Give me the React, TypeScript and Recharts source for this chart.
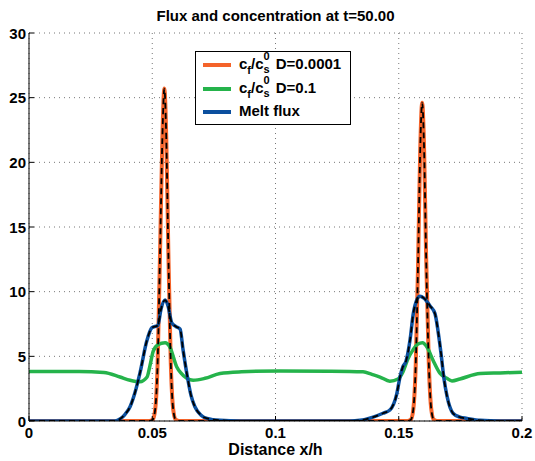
import React from 'react';
import { LineChart, Line, XAxis, YAxis, CartesianGrid } from 'recharts';

// D=0.0001 concentration (narrow peaks)
const lowDX = [0, 0.0488, 0.0502, 0.0512, 0.0522, 0.0532, 0.0541, 0.0549, 0.0557, 0.0565, 0.0575, 0.0585, 0.0595, 0.061,
  0.1535, 0.1549, 0.1559, 0.1569, 0.1579, 0.1587, 0.1595, 0.1603, 0.1611, 0.1622, 0.1632, 0.1642, 0.1656, 0.2];
const lowDY = [0, 0, 0.1, 0.9, 4.6, 13.4, 21.8, 25.7, 21.8, 13.4, 4.6, 0.9, 0.1, 0,
  0, 0.1, 0.9, 4.4, 12.8, 20.9, 24.6, 20.9, 12.8, 4.4, 0.9, 0.1, 0, 0];

// D=0.1 concentration
const highDX = [0, 0.0203, 0.0304, 0.0369, 0.041, 0.045, 0.0479, 0.0491, 0.0504, 0.0523, 0.0552, 0.0572, 0.0599, 0.0617,
  0.064, 0.0666, 0.0714, 0.0775, 0.0862, 0.1014, 0.1217, 0.1355, 0.1391, 0.1424, 0.1464, 0.1497, 0.1517, 0.1537, 0.1558,
  0.1578, 0.1596, 0.1615, 0.1639, 0.1667, 0.1695, 0.1716, 0.1748, 0.183, 0.1911, 0.2];
const highDY = [3.82, 3.82, 3.75, 3.4, 3.15, 3.03, 3.4, 4.3, 5.4, 5.9, 6.05, 5.7, 4.2, 3.7,
  3.3, 3.15, 3.3, 3.67, 3.8, 3.87, 3.85, 3.8, 3.6, 3.4, 3.08, 3.25, 3.8, 4.8, 5.5,
  5.95, 6.05, 5.7, 4.7, 3.7, 3.3, 3.1, 3.25, 3.67, 3.72, 3.77];

// melt flux
const fluxX = [0, 0.0349, 0.0369, 0.0389, 0.041, 0.043, 0.045, 0.0478, 0.0498, 0.0523, 0.0535, 0.0552, 0.0564, 0.0579,
  0.0596, 0.0613, 0.0625, 0.064, 0.0657, 0.0673, 0.0698, 0.0722, 0.0775, 0.0856, 0.1302, 0.1343, 0.1396, 0.1436,
  0.1464, 0.1492, 0.1505, 0.1517, 0.1529, 0.1546, 0.1559, 0.1574, 0.1586, 0.1602, 0.1627, 0.1647, 0.1659, 0.1671,
  0.1684, 0.1696, 0.172, 0.1748, 0.1777, 0.183, 0.1911, 0.2];
const fluxY = [0, 0, 0.15, 0.5, 1.1, 2.2, 3.7, 6.2, 7.2, 7.4, 8.6, 9.35, 8.9, 7.6,
  7.3, 7.1, 5.5, 3.7, 2.0, 1.1, 0.45, 0.2, 0.05, 0, 0, 0.05, 0.3, 0.6,
  0.85, 2.1, 3.4, 4.2, 4.6, 6.3, 8.3, 9.4, 9.65, 9.5, 8.9, 8.3, 7.0, 5.3,
  3.2, 1.9, 0.6, 0.3, 0.2, 0.05, 0, 0];

const xTicks = [0, 0.05, 0.1, 0.15, 0.2];
const yTicks = [0, 5, 10, 15, 20, 25, 30];

const ORANGE = '#f4632a';
const GREEN = '#25b34b';
const BLUE = '#0b4f9e';
const FONT = '"Liberation Sans", Arial, Helvetica, sans-serif';

const toPoints = (xs: number[], ys: number[]) => xs.map((x, i) => ({ x, y: ys[i] }));
const lowD = toPoints(lowDX, lowDY);
const highD = toPoints(highDX, highDY);
const flux = toPoints(fluxX, fluxY);

const BottomTick = (props: any) => {
  const { x, y, payload } = props;
  return (
    <g>
      <line x1={x} y1={y} x2={x} y2={y - 5} stroke="#000" />
      <text x={x} y={y + 17} textAnchor="middle" fontFamily={FONT} fontWeight="bold" fontSize={15} fill="#000">
        {payload.value}
      </text>
    </g>
  );
};
const TopTick = (props: any) => {
  const { x, y } = props;
  return <line x1={x} y1={y} x2={x} y2={y + 5} stroke="#000" />;
};
const LeftTick = (props: any) => {
  const { x, y, payload } = props;
  return (
    <g>
      <line x1={x} y1={y} x2={x + 5} y2={y} stroke="#000" />
      <text x={x - 3} y={y + 5.5} textAnchor="end" fontFamily={FONT} fontWeight="bold" fontSize={15} fill="#000">
        {payload.value}
      </text>
    </g>
  );
};
const RightTick = (props: any) => {
  const { x, y } = props;
  return <line x1={x} y1={y} x2={x - 5} y2={y} stroke="#000" />;
};

const small: React.CSSProperties = { fontSize: 11, lineHeight: '10px' };

const Conc = ({ d }: { d: string }) => (
  <span>
    c<span style={{ ...small, position: 'relative', top: 5 }}>f</span>/c
    <span style={{ position: 'relative', display: 'inline-block', width: 8, height: 16, verticalAlign: 'top' }}>
      <span style={{ ...small, position: 'absolute', left: 0, top: -5 }}>0</span>
      <span style={{ ...small, position: 'absolute', left: 0, top: 8 }}>s</span>
    </span>
    {' '}D={d}
  </span>
);

const legendItems = [
  { color: ORANGE, label: <Conc d="0.0001" />, top: 4 },
  { color: GREEN, label: <Conc d="0.1" />, top: 28 },
  { color: BLUE, label: <span>Melt flux</span>, top: 51 },
];

export default function App() {
  return (
    <div style={{ position: 'absolute', left: 0, top: 0, width: 535, height: 461, background: '#fff' }}>
      <div style={{ position: 'absolute', left: 29, top: 7, width: 493, textAlign: 'center', fontFamily: FONT, fontWeight: 'bold', fontSize: 15 }}>
        Flux and concentration at t=50.00
      </div>
      <LineChart width={535} height={461} margin={{ top: 33, right: 13, bottom: 0, left: 0 }}>
        <CartesianGrid strokeDasharray="1 4" stroke="#777" />
        <XAxis dataKey="x" type="number" domain={[0, 0.2]} ticks={xTicks} height={40} tickSize={0} tickMargin={0}
          tick={<BottomTick />} axisLine={{ stroke: '#000' }} allowDataOverflow />
        <XAxis xAxisId="t" orientation="top" dataKey="x" type="number" domain={[0, 0.2]} ticks={xTicks} height={0}
          tickSize={0} tickMargin={0} tick={<TopTick />} axisLine={{ stroke: '#000' }} />
        <YAxis type="number" domain={[0, 30]} ticks={yTicks} width={29} tickSize={0} tickMargin={0}
          tick={<LeftTick />} axisLine={{ stroke: '#000' }} allowDataOverflow />
        <YAxis yAxisId="r" orientation="right" type="number" domain={[0, 30]} ticks={yTicks} width={0} tickSize={0}
          tickMargin={0} tick={<RightTick />} axisLine={{ stroke: '#000' }} />
        <Line data={lowD} dataKey="y" type="monotone" stroke={ORANGE} strokeWidth={4} dot={false} isAnimationActive={false} />
        <Line data={highD} dataKey="y" type="monotone" stroke={GREEN} strokeWidth={3.5} dot={false} isAnimationActive={false} />
        <Line data={flux} dataKey="y" type="monotone" stroke={BLUE} strokeWidth={3.5} dot={false} isAnimationActive={false} />
        <Line data={lowD} dataKey="y" type="monotone" stroke="#000" strokeWidth={1.8} strokeDasharray="6 4" dot={false} isAnimationActive={false} />
        <Line data={flux} dataKey="y" type="monotone" stroke="#000" strokeWidth={1.8} strokeDasharray="6 4" dot={false} isAnimationActive={false} />
      </LineChart>
      <div style={{ position: 'absolute', left: 29, top: 442, width: 493, lineHeight: '16px', textAlign: 'center', fontFamily: FONT, fontWeight: 'bold', fontSize: 16 }}>
        Distance x/h
      </div>
      <div style={{ position: 'absolute', left: 195, top: 51, width: 156, height: 74, boxSizing: 'border-box', border: '1.5px solid #000', background: '#fff', fontFamily: FONT, fontWeight: 'bold', fontSize: 15 }}>
        {legendItems.map((it, i) => (
          <div key={i} style={{ position: 'absolute', left: 0, top: it.top, height: 16, lineHeight: '16px', whiteSpace: 'nowrap' }}>
            <span style={{ position: 'absolute', left: 7, top: 7, width: 28, height: 4, background: it.color }} />
            <span style={{ position: 'absolute', left: 43, top: 0 }}>{it.label}</span>
          </div>
        ))}
      </div>
    </div>
  );
}
